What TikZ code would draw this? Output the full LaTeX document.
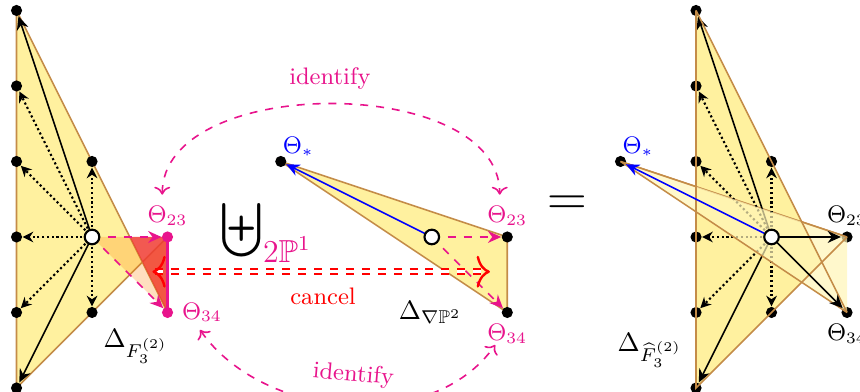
\documentclass[tikz,border=0pt]{standalone}
\usepackage{amssymb}
\usetikzlibrary{arrows.meta, positioning, calc}
\definecolor{FanYellow}{RGB}{255,232,95}
\definecolor{EdgeBrown}{RGB}{196,140,72}
\definecolor{HotPink}{RGB}{232,20,140}
\definecolor{CancelRed}{RGB}{240,60,50}

\tikzset{
  poly/.style={fill=FanYellow, fill opacity=0.6, draw=EdgeBrown, semithick},
  edge/.style={draw=EdgeBrown, semithick},
  ray/.style={semithick, -{Stealth[length=5pt,width=4.5pt]}},
  dotray/.style={thick, densely dotted, -{Stealth[length=4pt,width=4pt]}},
  pinkray/.style={HotPink, semithick, dashed, -{Stealth[length=5pt,width=4.5pt]}},
  starray/.style={blue, semithick, -{Stealth[length=5pt,width=4.5pt]}},
  pt/.style={circle, fill=black, inner sep=0pt, minimum size=4.2pt},
  orig/.style={circle, draw=black, fill=white, thick, inner sep=0pt, minimum size=5.5pt},
  lbl/.style={font=\small, inner sep=1pt},
  ident/.style={HotPink, semithick, dashed, {To[length=3pt,width=6pt]}-{To[length=3pt,width=6pt]}},
  cmtip/.tip={Computer Modern Rightarrow[length=5pt,width=12pt,line width=0.9pt]},
  cancelarr/.style={red, thick, double, double distance=1.2pt, dashed, {cmtip}-{cmtip}},
}

\begin{document}
\begin{tikzpicture}
\useasboundingbox (-1.219,-2.053) rectangle (10.172,3.139);

% left polygon with the cancelled piece
\filldraw[poly] (-1,3) -- (1,-1) -- (1,0) -- (-1,-2) -- cycle;
\fill[orange, fill opacity=0.25] (0,0) -- (0.5,0) -- (1,-1) -- cycle;
\fill[CancelRed, fill opacity=0.85] (0.5,0) -- (1,0) -- (1,-1) -- cycle;
\draw[HotPink, thick] (1,0) -- (1,-1);
% middle polygon
\filldraw[poly] (2.5,1) -- (5.5,0) -- (5.5,-1) -- cycle;
% right polygon (sum), first the big piece
\fill[FanYellow, fill opacity=0.6] (8,3) -- (9.6667,-0.3333) -- (8,-2) -- cycle;
\draw[edge] (7,1) -- (10,0);

% lattice points and origins
\foreach \f/\ox in {l/0, r/9}{
  \foreach \y/\n in {3/a,2/b,1/c,0/d,-1/e,-2/f}
    \node[pt] (\f\n) at (\ox-1,\y) {};
  \node[pt] (\f u) at (\ox,1) {};
  \node[pt] (\f v) at (\ox,-1) {};
}
\node[pt, fill=HotPink] (l23) at (1,0) {};
\node[pt, fill=HotPink] (l34) at (1,-1) {};
\node[pt] (mS) at (2.5,1) {};
\node[pt] (m23) at (5.5,0) {};
\node[pt] (m34) at (5.5,-1) {};
\node[pt] (rS) at (7,1) {};
\node[pt] (r23) at (10,0) {};
\node[pt] (r34) at (10,-1) {};
\coordinate (lO) at (0,0);
\coordinate (mO) at (4.5,0);
\coordinate (rO) at (9,0);

% rays
\foreach \f in {l, r}{
  \draw[ray] (\f O) -- (\f a);
  \draw[ray] (\f O) -- (\f f);
  \foreach \n in {b,c,d,e,u,v}
    \draw[dotray] (\f O) -- (\f\n);
}
% right polygon, the glued triangle on top
\fill[FanYellow!45, fill opacity=0.7] (7,1) -- (10,0) -- (10,-1) -- cycle;
\draw[edge] (7,1) -- (8,0.6667) (9.4,0.2) -- (10,0);
\draw[edge] (7,1) -- (10,-1);
\draw[edge] (8,3) -- (10,-1) (10,0) -- (8,-2) -- (8,3);

\draw[pinkray] (lO) -- (l23);
\draw[pinkray] (lO) -- (l34);
\draw[starray] (mO) -- (mS);
\draw[pinkray] (mO) -- (m23);
\draw[pinkray] (mO) -- (m34);
\draw[starray] (rO) -- (rS);
\draw[ray] (rO) -- (r23);
\draw[ray] (rO) -- (r34);
\foreach \f in {l, m, r}
  \node[orig] (\f o) at (\f O) {};

% labels
\node[lbl, text=HotPink, above=1pt of l23] (tl23) {$\Theta_{23}$};
\node[lbl, text=HotPink, right=2pt of l34] (tl34) {$\Theta_{34}$};
\node[lbl, text=blue, above right=-1pt and -2pt of mS] (tmS) {$\Theta_*$};
\node[lbl, text=HotPink, above=1pt of m23] (tm23) {$\Theta_{23}$};
\node[lbl, text=HotPink, below=1pt of m34] (tm34) {$\Theta_{34}$};
\node[lbl, text=blue, above right=-1pt and -2pt of rS] (trS) {$\Theta_*$};
\node[lbl, above=1pt of r23] (tr23) {$\Theta_{23}$};
\node[lbl, below=1pt of r34] (tr34) {$\Theta_{34}$};
\node[lbl, font=\normalsize] (dl) at (0.58,-1.45) {$\Delta_{F_3^{(2)}}$};
\node[lbl, font=\normalsize] (dm) at (4.48,-1.0) {$\Delta_{\nabla\mathbb{P}^2}$};
\node[lbl, font=\normalsize] (dr) at (7.39,-1.5) {$\Delta_{\widehat{F}_3^{(2)}}$};

% union and equal sign
\node[lbl, font=\Large, anchor=west] (un) at (1.66,0.08)
  {$\displaystyle\biguplus\nolimits_{\mbox{\fontsize{12}{14}\selectfont\color{HotPink}$2\mathbb{P}^1$}}$};
\node[font=\huge] (eq) at (6.30,0.41) {$=$};

% identify arcs
\coordinate (il) at (0.93,0.56);
\coordinate (ir) at (5.40,0.56);
\draw[ident] (il) to[out=90, in=90, looseness=0.92] (ir);
\node[lbl, text=HotPink] (idt) at (3.15,2.1) {identify};
\coordinate (jl) at (1.43,-1.23);
\coordinate (jr) at (5.34,-1.43);
\draw[ident] (jl) to[out=-55, in=-125, looseness=0.95] (jr);
\node[lbl, text=HotPink, rotate=-5] (idb) at (3.46,-1.83) {identify};

% cancel
\coordinate (cl) at (0.8,-0.46);
\coordinate (cr) at (5.27,-0.46);
\draw[cancelarr] (cl) -- (cr);
\node[lbl, text=red] (cn) at (3.06,-0.79) {cancel};

\end{tikzpicture}
\end{document}
